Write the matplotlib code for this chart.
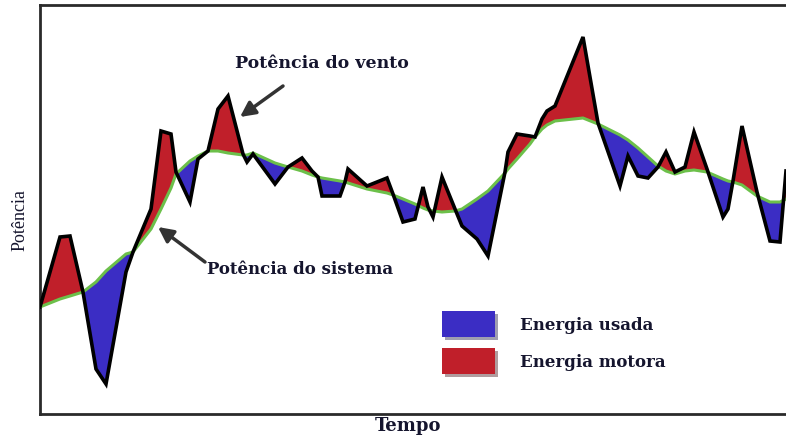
import numpy as np
import matplotlib
matplotlib.use('Agg')
import matplotlib.pyplot as plt
from matplotlib.patches import Patch
from matplotlib import patheffects as pe

# time axis (arbitrary units) and the two power curves
tempo = [0, 20, 30, 43, 56, 66, 86, 93, 111, 121,
         131, 136, 150, 158, 168, 178, 188, 203, 207, 213,
         235, 248, 262, 272, 278, 282, 300, 305, 308, 327,
         347, 353, 363, 375, 383, 388, 393, 402, 415, 422,
         437, 448, 465, 468, 477, 490, 495, 502, 507, 515,
         543, 558, 580, 588, 598, 608, 618, 626, 635, 645,
         654, 667, 683, 688, 693, 702, 717, 730, 740, 746]

potencia_vento = [107, 177, 178, 122, 45, 30, 142, 162, 205, 283,
                  280, 242, 212, 255, 263, 305, 318, 260, 252, 260,
                  230, 247, 256, 243, 237, 218, 218, 232, 245, 228,
                  236, 220, 192, 195, 227, 207, 197, 237, 205, 188,
                  175, 158, 242, 262, 280, 278, 277, 295, 303, 308,
                  377, 291, 228, 258, 238, 236, 247, 262, 242, 247,
                  282, 245, 197, 205, 233, 288, 222, 173, 172, 243]

potencia_sistema = [107, 115, 118, 122, 132, 143, 160, 162, 185, 205,
                    226, 240, 253, 258, 263, 263, 261, 259, 259, 261,
                    251, 247, 243, 239, 237, 236, 233, 232, 231, 225,
                    221, 219, 215, 210, 206, 204, 203, 202, 203, 205,
                    215, 223, 241, 245, 255, 270, 277, 285, 289, 293,
                    296, 290, 279, 274, 266, 257, 248, 243, 240, 243,
                    244, 242, 235, 233, 232, 229, 218, 212, 212, 215]

legend_labels = ['Energia usada', 'Energia motora']

azul = '#3b2dc4'
vermelho = '#c01f2a'
verde = '#6cc04a'
texto = '#15152e'
serif = 'Liberation Serif'
serif_largo = 'DejaVu Serif'

t = np.array(tempo, dtype=float)
vento = np.array(potencia_vento, dtype=float)
sistema = np.array(potencia_sistema, dtype=float)

fig = plt.figure(figsize=(7.86, 4.39), dpi=100)
ax = fig.add_axes([40/786, 24/439, 746/786, 409/439])

ax.fill_between(t, vento, sistema, where=vento >= sistema, interpolate=True,
                color=vermelho, lw=0)
ax.fill_between(t, vento, sistema, where=vento <= sistema, interpolate=True,
                color=azul, lw=0)
ax.plot(t, sistema, color=verde, lw=2.2, zorder=3)
ax.plot(t, vento, color='black', lw=2.6, zorder=4, solid_joinstyle='miter')

ax.set_xlim(0, 746)
ax.set_ylim(0, 409)
ax.set_xticks([])
ax.set_yticks([])
for s in ['left', 'bottom', 'top']:
    ax.spines[s].set_color('#2a2a2a')
    ax.spines[s].set_linewidth(2)
ax.spines['right'].set_visible(False)

# annotations
seta = dict(arrowstyle='-|>,head_length=0.9,head_width=0.45',
            color='#333333', lw=2.5, shrinkA=0, shrinkB=0)
ax.text(195, 352, 'Potência do vento', ha='left', va='center', fontsize=12.5,
        fontfamily=serif_largo, fontweight='bold', color=texto)
ax.annotate('', xy=(200, 297), xytext=(243, 328), arrowprops=seta)
ax.text(167, 146, 'Potência do sistema', ha='left', va='center', fontsize=12,
        fontfamily=serif_largo, fontweight='bold', color=texto)
ax.annotate('', xy=(118, 187), xytext=(165, 152), arrowprops=seta)

ax.set_xlabel('Tempo', fontsize=13, fontfamily=serif_largo, fontweight='bold',
              color=texto)
ax.xaxis.set_label_coords(0.493, -0.004)
ax.set_ylabel('Potência', fontsize=13, fontfamily=serif, color=texto)
ax.yaxis.set_label_coords(-0.016, 0.477)

handles = [Patch(facecolor=azul, edgecolor='none'),
           Patch(facecolor=vermelho, edgecolor='none')]
leg = ax.legend(handles, legend_labels, loc='upper left',
                bbox_to_anchor=(0.539, 0.252), frameon=False,
                borderpad=0, borderaxespad=0, handlelength=3.2,
                handleheight=2.02, labelspacing=0.68, handletextpad=1.5,
                prop={'family': serif_largo, 'weight': 'bold', 'size': 12})
for txt in leg.get_texts():
    txt.set_color(texto)
for p in leg.get_patches():
    p.set_path_effects([pe.withSimplePatchShadow(offset=(2, -2), alpha=0.4)])

fig.savefig('out.png', dpi=100)
